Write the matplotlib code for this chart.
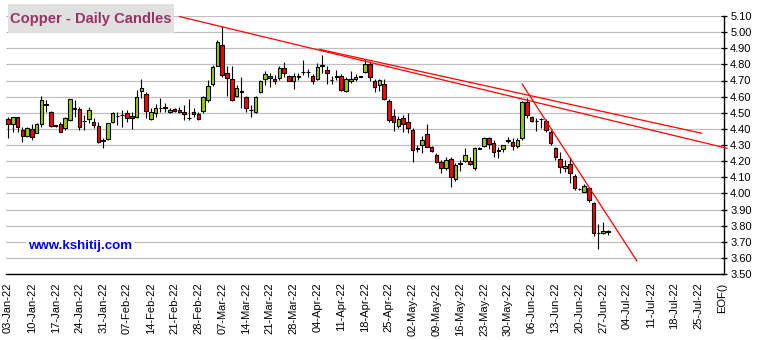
"""
Copper - Daily Candles 차트 재현
"""

import matplotlib
matplotlib.use('Agg')
import matplotlib.pyplot as plt
import matplotlib.patches as patches

plt.rcParams['font.family'] = ['Liberation Sans', 'DejaVu Sans']

# 일봉 데이터 (2022-01-03 부터, 영업일 순서)
opens = [4.459, 4.428, 4.472, 4.393, 4.358, 4.397, 4.376, 4.428, 4.554, 4.507,
         4.421, 4.428, 4.407, 4.455, 4.527, 4.521, 4.451, 4.459, 4.445, 4.418,
         4.329, 4.335, 4.441, 4.481, 4.487, 4.496, 4.480, 4.476, 4.637, 4.616,
         4.459, 4.496, 4.532, 4.536, 4.503, 4.521, 4.517, 4.507, 4.470, 4.503,
         4.492, 4.508, 4.576, 4.677, 4.791, 4.921, 4.746, 4.708, 4.605, 4.632,
         4.595, 4.519, 4.504, 4.628, 4.708, 4.729, 4.708, 4.715, 4.777, 4.725,
         4.700, 4.726, 4.753, 4.753, 4.729, 4.708, 4.794, 4.766, 4.705, 4.726,
         4.725, 4.632, 4.694, 4.708, 4.726, 4.752, 4.801, 4.698, 4.669, 4.677,
         4.575, 4.480, 4.420, 4.465, 4.442, 4.393, 4.280, 4.300, 4.368, 4.285,
         4.238, 4.196, 4.155, 4.213, 4.087, 4.187, 4.203, 4.201, 4.159, 4.280,
         4.296, 4.341, 4.310, 4.266, 4.275, 4.328, 4.320, 4.294, 4.346, 4.565,
         4.476, 4.450, 4.463, 4.451, 4.379, 4.284, 4.211, 4.160, 4.182, 4.110,
         4.028, 4.011, 4.032, 3.943, 3.754, 3.757, 3.764]
highs = [4.476, 4.476, 4.476, 4.414, 4.414, 4.428, 4.434, 4.604, 4.579, 4.513,
         4.424, 4.445, 4.476, 4.585, 4.579, 4.534, 4.486, 4.534, 4.465, 4.445,
         4.341, 4.438, 4.507, 4.507, 4.517, 4.517, 4.507, 4.641, 4.709, 4.631,
         4.527, 4.552, 4.589, 4.558, 4.531, 4.531, 4.537, 4.547, 4.585, 4.527,
         4.507, 4.605, 4.704, 4.797, 4.952, 5.039, 4.787, 4.787, 4.673, 4.721,
         4.605, 4.549, 4.605, 4.704, 4.756, 4.746, 4.735, 4.787, 4.812, 4.735,
         4.746, 4.746, 4.828, 4.770, 4.742, 4.808, 4.859, 4.791, 4.725, 4.766,
         4.742, 4.721, 4.756, 4.739, 4.729, 4.833, 4.818, 4.708, 4.708, 4.708,
         4.583, 4.521, 4.480, 4.486, 4.500, 4.403, 4.300, 4.358, 4.430, 4.296,
         4.248, 4.207, 4.223, 4.227, 4.186, 4.207, 4.279, 4.227, 4.285, 4.285,
         4.347, 4.347, 4.331, 4.285, 4.300, 4.351, 4.341, 4.341, 4.573, 4.590,
         4.482, 4.466, 4.466, 4.462, 4.393, 4.290, 4.259, 4.207, 4.228, 4.118,
         4.032, 4.056, 4.042, 3.949, 3.808, 3.821, 3.773]
lows = [4.341, 4.383, 4.383, 4.316, 4.352, 4.331, 4.372, 4.414, 4.507, 4.414,
        4.414, 4.378, 4.393, 4.449, 4.476, 4.393, 4.393, 4.434, 4.403, 4.310,
        4.283, 4.331, 4.434, 4.424, 4.414, 4.445, 4.397, 4.465, 4.589, 4.465,
        4.455, 4.476, 4.507, 4.507, 4.496, 4.507, 4.496, 4.455, 4.455, 4.476,
        4.455, 4.498, 4.564, 4.667, 4.787, 4.721, 4.605, 4.570, 4.595, 4.529,
        4.502, 4.473, 4.498, 4.622, 4.673, 4.659, 4.679, 4.704, 4.721, 4.694,
        4.646, 4.704, 4.735, 4.721, 4.679, 4.704, 4.746, 4.679, 4.679, 4.704,
        4.632, 4.626, 4.684, 4.700, 4.721, 4.746, 4.694, 4.626, 4.632, 4.576,
        4.445, 4.387, 4.403, 4.383, 4.372, 4.196, 4.259, 4.252, 4.285, 4.259,
        4.186, 4.128, 4.145, 4.042, 4.079, 4.141, 4.196, 4.176, 4.145, 4.273,
        4.285, 4.273, 4.227, 4.217, 4.259, 4.310, 4.269, 4.279, 4.331, 4.470,
        4.445, 4.387, 4.408, 4.383, 4.300, 4.207, 4.125, 4.131, 4.063, 4.021,
        4.021, 4.007, 3.949, 3.736, 3.655, 3.746, 3.742]
closes = [4.428, 4.472, 4.414, 4.358, 4.407, 4.352, 4.428, 4.579, 4.550, 4.420,
          4.419, 4.383, 4.465, 4.583, 4.525, 4.414, 4.449, 4.517, 4.424, 4.316,
          4.325, 4.434, 4.496, 4.479, 4.485, 4.465, 4.465, 4.600, 4.655, 4.511,
          4.503, 4.527, 4.530, 4.527, 4.517, 4.513, 4.507, 4.490, 4.468, 4.490,
          4.459, 4.597, 4.667, 4.783, 4.938, 4.735, 4.715, 4.580, 4.653, 4.630,
          4.529, 4.517, 4.597, 4.700, 4.742, 4.715, 4.700, 4.777, 4.746, 4.700,
          4.729, 4.724, 4.751, 4.751, 4.694, 4.783, 4.792, 4.746, 4.703, 4.724,
          4.638, 4.708, 4.708, 4.721, 4.724, 4.801, 4.721, 4.659, 4.700, 4.584,
          4.455, 4.445, 4.463, 4.430, 4.407, 4.269, 4.278, 4.331, 4.289, 4.265,
          4.196, 4.155, 4.207, 4.103, 4.176, 4.185, 4.238, 4.180, 4.279, 4.278,
          4.341, 4.306, 4.259, 4.264, 4.300, 4.326, 4.296, 4.331, 4.565, 4.486,
          4.451, 4.448, 4.461, 4.393, 4.311, 4.228, 4.166, 4.172, 4.125, 4.032,
          4.026, 4.048, 3.959, 3.753, 3.752, 3.767, 3.762]

# 주간 눈금 라벨
week_labels = ['03-Jan-22', '10-Jan-22', '17-Jan-22', '24-Jan-22', '31-Jan-22',
               '07-Feb-22', '14-Feb-22', '21-Feb-22', '28-Feb-22', '07-Mar-22',
               '14-Mar-22', '21-Mar-22', '28-Mar-22', '04-Apr-22', '11-Apr-22',
               '18-Apr-22', '25-Apr-22', '02-May-22', '09-May-22', '16-May-22',
               '23-May-22', '30-May-22', '06-Jun-22', '13-Jun-22', '20-Jun-22',
               '27-Jun-22', '04-Jul-22', '11-Jul-22', '18-Jul-22', '25-Jul-22',
               'EOF()']

# 추세선 (x: 영업일 인덱스, y: 가격)
trend_lines = [
    ([36.1, 151.0], [5.096, 4.280]),
    ([65.5, 145.7], [4.893, 4.373]),
    ([108.0, 132.1], [4.678, 3.581]),
]

UP_COLOR = '#99cc00'
DOWN_COLOR = '#ff0000'

fig = plt.figure(figsize=(7.58, 3.40), dpi=100)
ax = fig.add_axes([6 / 758, 1 - 274 / 340, 718 / 758, 258 / 340])

# 캔들 그리기
x = list(range(len(opens)))
ax.vlines(x, lows, highs, color='black', linewidth=0.8, zorder=3)
bottoms = [min(o, c) for o, c in zip(opens, closes)]
heights = [max(abs(c - o), 0.002) for o, c in zip(opens, closes)]
colors = [UP_COLOR if c > o else DOWN_COLOR for o, c in zip(opens, closes)]
ax.bar(x, heights, bottom=bottoms, width=0.74, color=colors,
       edgecolor='black', linewidth=0.8, zorder=4)

# 추세선
for tx, ty in trend_lines:
    ax.plot(tx, ty, color='#ff0000', linewidth=0.9, zorder=5, clip_on=False)

# 축 설정
ax.set_xlim(-0.42, 150.4)
ax.set_ylim(3.50, 5.10)
ax.set_yticks([3.5 + 0.1 * i for i in range(17)])
ax.set_yticklabels([f'{3.5 + 0.1 * i:.2f}' for i in range(17)])
ax.yaxis.tick_right()
ax.tick_params(axis='y', direction='inout', length=5, width=0.9,
               labelsize=8, pad=2, colors='black')
ax.set_xticks(list(range(0, 151, 5)))
ax.set_xticklabels(week_labels, rotation=90, fontsize=8)
ax.tick_params(axis='x', length=0, pad=6)

ax.grid(axis='y', color='#c0c0c0', linewidth=0.9, zorder=0)
ax.set_axisbelow(True)
for side in ['left', 'top']:
    ax.spines[side].set_visible(False)
ax.spines['right'].set_linewidth(1.0)
ax.spines['bottom'].set_linewidth(1.0)

# 제목 박스
fig.patches.append(patches.Rectangle((8 / 758, 1 - 33 / 340), 166 / 758, 29 / 340,
                                     transform=fig.transFigure, facecolor='#e0e0e0',
                                     edgecolor='none', zorder=1))
fig.text(10 / 758, 1 - 19 / 340, 'Copper - Daily Candles', fontsize=10.6,
         fontweight='bold', color='#993366', va='center', ha='left', zorder=2)

# 웹사이트 표시
ax.text(4.2, 3.675, 'www.kshitij.com', fontsize=9.6, fontweight='bold',
        color='#0000ff', va='center', ha='left', zorder=6,
        bbox=dict(facecolor='white', edgecolor='none', pad=1.5))

fig.savefig('out.png', dpi=100)
